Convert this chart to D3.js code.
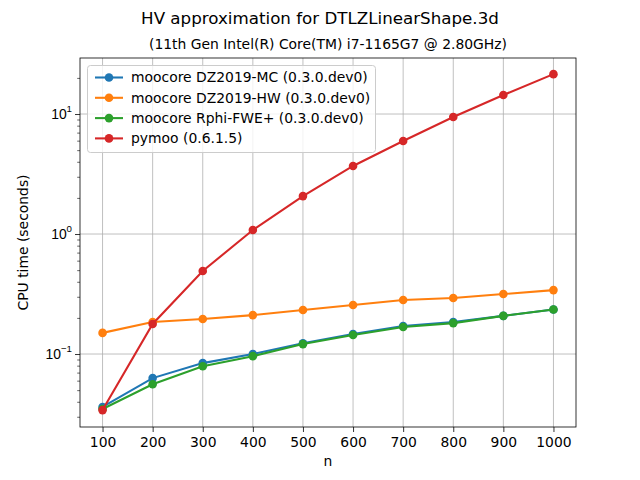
<!DOCTYPE html>
<html>
<head>
<meta charset="utf-8">
<script src="https://cdn.jsdelivr.net/npm/d3@7"></script>
<style>
  body { margin: 0; background: #fff; }
  svg { font-family: "DejaVu Sans", sans-serif; }
</style>
</head>
<body>
<svg width="640" height="480"></svg>
<script>
// data
var nValues = [100, 200, 300, 400, 500, 600, 700, 800, 900, 1000];
var seriesNames = [
  "moocore DZ2019-MC (0.3.0.dev0)",
  "moocore DZ2019-HW (0.3.0.dev0)",
  "moocore Rphi-FWE+ (0.3.0.dev0)",
  "pymoo (0.6.1.5)"
];
var seriesColors = ["#1f77b4", "#ff7f0e", "#2ca02c", "#d62728"];
var mcTimes   = [0.0362, 0.063, 0.084, 0.100, 0.123, 0.147, 0.171, 0.185, 0.208, 0.235];
var hwTimes   = [0.150, 0.185, 0.196, 0.211, 0.233, 0.256, 0.282, 0.293, 0.316, 0.341];
var fweTimes  = [0.0348, 0.056, 0.079, 0.096, 0.121, 0.144, 0.168, 0.181, 0.208, 0.235];
var pymooTimes = [0.0341, 0.178, 0.492, 1.08, 2.07, 3.69, 5.96, 9.44, 14.4, 21.5];
var xTicks = [100, 200, 300, 400, 500, 600, 700, 800, 900, 1000];
var yTicks = [0.1, 1, 10];

function init() {
  var svg = d3.select("svg");
  var left = 80, right = 576, top = 58, bottom = 427;

  var allSeries = [mcTimes, hwTimes, fweTimes, pymooTimes];

  var x = d3.scaleLinear().domain([55, 1045]).range([left, right]);
  var y = d3.scaleLog().domain([0.02465, 29.3]).range([bottom, top]);

  // grid
  var grid = svg.append("g").attr("stroke", "#b0b0b0").attr("stroke-width", 0.8);
  xTicks.forEach(function(t) {
    grid.append("line").attr("x1", x(t)).attr("x2", x(t)).attr("y1", top).attr("y2", bottom);
  });
  yTicks.forEach(function(t) {
    grid.append("line").attr("x1", left).attr("x2", right).attr("y1", y(t)).attr("y2", y(t));
  });

  // x axis
  var xAxis = d3.axisBottom(x).tickValues(xTicks).tickSize(5).tickPadding(5).tickFormat(d3.format("d"));
  var gx = svg.append("g").attr("transform", "translate(0," + bottom + ")").call(xAxis);
  gx.select(".domain").remove();
  gx.selectAll("line").attr("stroke", "#000").attr("stroke-width", 0.8);
  gx.selectAll("text").attr("font-size", 13.9).attr("font-family", "DejaVu Sans").attr("fill", "#000");

  // y axis major
  var yAxis = d3.axisLeft(y).tickValues(yTicks).tickSize(5).tickPadding(5).tickFormat("");
  var gy = svg.append("g").attr("transform", "translate(" + left + ",0)").call(yAxis);
  gy.select(".domain").remove();
  gy.selectAll("line").attr("stroke", "#000").attr("stroke-width", 0.8);
  var exps = {"0.1": "\u22121", "1": "0", "10": "1"};
  gy.selectAll(".tick").each(function(d) {
    var t = d3.select(this).append("text")
      .attr("x", -8).attr("dy", "0.32em").attr("text-anchor", "end")
      .attr("font-size", 13.9).attr("fill", "#000");
    t.append("tspan").text("10");
    t.append("tspan").attr("font-size", 9.7).attr("dy", "-0.7em").text(exps[String(d)]);
  });

  // y minor ticks
  var minor = [];
  [0.01, 0.1, 1, 10].forEach(function(dec) {
    for (var k = 2; k <= 9; k++) {
      var v = dec * k;
      if (v >= y.domain()[0] && v <= y.domain()[1]) minor.push(v);
    }
  });
  var yMinor = d3.axisLeft(y).tickValues(minor).tickSize(2.8).tickFormat("");
  var gm = svg.append("g").attr("transform", "translate(" + left + ",0)").call(yMinor);
  gm.select(".domain").remove();
  gm.selectAll("line").attr("stroke", "#000").attr("stroke-width", 0.6);

  // lines + markers
  var line = d3.line().x(function(d, i) { return x(nValues[i]); }).y(function(d) { return y(d); });
  allSeries.forEach(function(s, si) {
    var g = svg.append("g");
    g.append("path").datum(s).attr("d", line)
      .attr("fill", "none").attr("stroke", seriesColors[si]).attr("stroke-width", 2.08);
    g.selectAll("circle").data(s).enter().append("circle")
      .attr("cx", function(d, i) { return x(nValues[i]); })
      .attr("cy", function(d) { return y(d); })
      .attr("r", 4.3)
      .attr("fill", seriesColors[si]);
  });

  // frame
  svg.append("rect").attr("x", left).attr("y", top)
    .attr("width", right - left).attr("height", bottom - top)
    .attr("fill", "none").attr("stroke", "#000").attr("stroke-width", 0.8);

  // titles
  svg.append("text").attr("x", 320).attr("y", 24).attr("text-anchor", "middle")
    .attr("font-size", 16.7).text("HV approximation for DTLZLinearShape.3d");
  svg.append("text").attr("x", (left + right) / 2).attr("y", 49).attr("text-anchor", "middle")
    .attr("font-size", 13.9).text("(11th Gen Intel(R) Core(TM) i7-1165G7 @ 2.80GHz)");
  svg.append("text").attr("x", (left + right) / 2).attr("y", 466).attr("text-anchor", "middle")
    .attr("font-size", 13.9).text("n");
  svg.append("text").attr("transform", "translate(28," + ((top + bottom) / 2) + ") rotate(-90)")
    .attr("text-anchor", "middle").attr("font-size", 13.9).text("CPU time (seconds)");

  // legend
  var lg = svg.append("g");
  lg.append("rect").attr("x", 87.5).attr("y", 65.5).attr("width", 288).attr("height", 87)
    .attr("rx", 3).attr("fill", "#fff").attr("fill-opacity", 0.8)
    .attr("stroke", "#cccccc").attr("stroke-width", 1);
  seriesNames.forEach(function(name, i) {
    var cy = 77.5 + i * 20.3;
    lg.append("line").attr("x1", 95).attr("x2", 123).attr("y1", cy).attr("y2", cy)
      .attr("stroke", seriesColors[i]).attr("stroke-width", 2.08);
    lg.append("circle").attr("cx", 109).attr("cy", cy).attr("r", 4.3).attr("fill", seriesColors[i]);
    lg.append("text").attr("x", 131).attr("y", cy).attr("dy", "0.35em")
      .attr("font-size", 13.9).text(name);
  });
}

init();
</script>
</body>
</html>
